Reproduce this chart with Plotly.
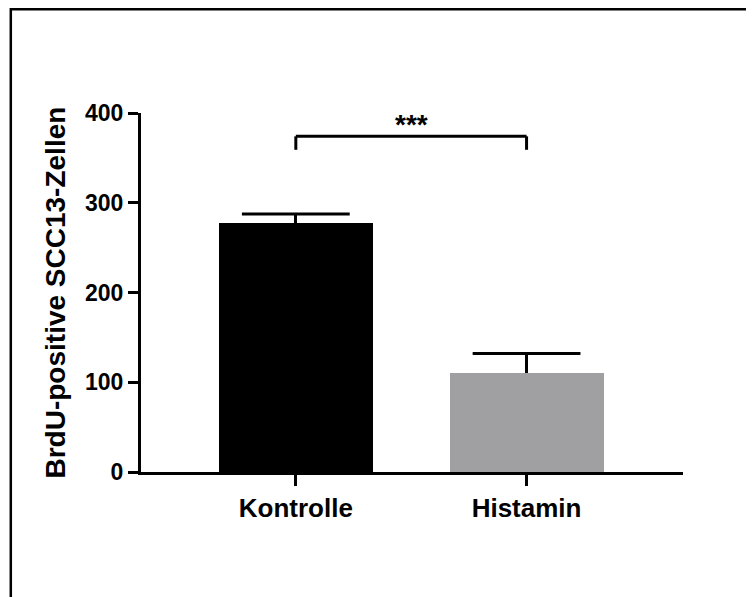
import plotly.graph_objects as go

categories = ["Kontrolle", "Histamin"]
means = [278, 110]
errors = [9.5, 22]
bar_colors = ["#000000", "#a0a0a2"]
y_ticks = [0, 100, 200, 300, 400]
bracket_y = 374
bracket_drop = 15
sig_label = "***"
y_title = "BrdU-positive SCC13-Zellen"

# page has an 8px default body margin; figure is sized so it fits the window
OFF = 8
W, H = 754 - OFF, 597 - OFF
ml, mt = 141 - OFF, 113 - OFF
pw, ph = 542, 359
mr, mb = W - ml - pw, H - mt - ph

def px_to_paper_x(px):
    return (px - OFF - ml) / pw

def px_to_paper_y(py):
    return (mt + ph - (py - OFF)) / ph

FONT = "Liberation Sans, Arial, sans-serif"

fig = go.Figure()
fig.add_trace(go.Bar(
    x=categories, y=means,
    marker=dict(color=bar_colors, line=dict(width=0)),
    width=0.667,
    error_y=dict(type="data", symmetric=False, array=errors,
                 arrayminus=[0, 0], color="#000000", thickness=3, width=0),
    showlegend=False, hoverinfo="skip",
))
# error bar caps (only at the upper end)
fig.add_trace(go.Scatter(
    x=categories, y=[m + e for m, e in zip(means, errors)],
    mode="markers",
    marker=dict(symbol="line-ew", size=77, color="black",
                line=dict(color="black", width=3)),
    showlegend=False, hoverinfo="skip",
))

shapes = []
shapes.append(dict(type="line", xref="x", yref="y", x0=0, x1=1,
                   y0=bracket_y, y1=bracket_y, line=dict(color="black", width=3)))
shapes.append(dict(type="line", xref="x", yref="y", x0=0, x1=0,
                   y0=bracket_y - bracket_drop, y1=bracket_y, line=dict(color="black", width=3)))
shapes.append(dict(type="line", xref="x", yref="y", x0=1, x1=1,
                   y0=bracket_y - bracket_drop, y1=bracket_y, line=dict(color="black", width=3)))
# outer frame (top and left edges)
shapes.append(dict(type="line", xref="paper", yref="paper",
                   x0=px_to_paper_x(10.3), x1=px_to_paper_x(770),
                   y0=px_to_paper_y(9.3), y1=px_to_paper_y(9.3),
                   line=dict(color="black", width=2.5)))
shapes.append(dict(type="line", xref="paper", yref="paper",
                   x0=px_to_paper_x(10.8), x1=px_to_paper_x(10.8),
                   y0=px_to_paper_y(8.1), y1=px_to_paper_y(620),
                   line=dict(color="black", width=2.5)))

annotations = [
    dict(x=0.5, y=bracket_y, xref="x", yref="y", text=sig_label, showarrow=False,
         yanchor="bottom", yshift=-6, font=dict(family=FONT, size=28, color="black", weight="bold")),
    dict(x=px_to_paper_x(55), y=px_to_paper_y(292.5), xref="paper", yref="paper", text=y_title,
         textangle=-90, showarrow=False, xanchor="center", yanchor="middle",
         font=dict(family=FONT, size=28, color="black", weight="bold")),
]

fig.update_layout(
    width=W, height=H,
    margin=dict(l=ml, r=mr, t=mt, b=mb, autoexpand=False),
    paper_bgcolor="white", plot_bgcolor="white",
    shapes=shapes, annotations=annotations,
    bargap=0, showlegend=False,
)
fig.update_xaxes(
    range=[-0.671, 1.678], showgrid=False, zeroline=False,
    showline=True, linecolor="black", linewidth=3,
    ticks="outside", ticklen=11, tickwidth=3, tickcolor="black",
    tickfont=dict(family=FONT, size=26, color="black", weight="bold"),
    automargin=False,
)
fig.update_yaxes(
    range=[0, 400], tickvals=y_ticks, showgrid=False, zeroline=False,
    showline=True, linecolor="black", linewidth=3,
    ticks="outside", ticklen=10, tickwidth=3, tickcolor="black",
    tickfont=dict(family=FONT, size=23, color="black", weight="bold"),
    automargin=False,
)

fig.write_html("out.html")
